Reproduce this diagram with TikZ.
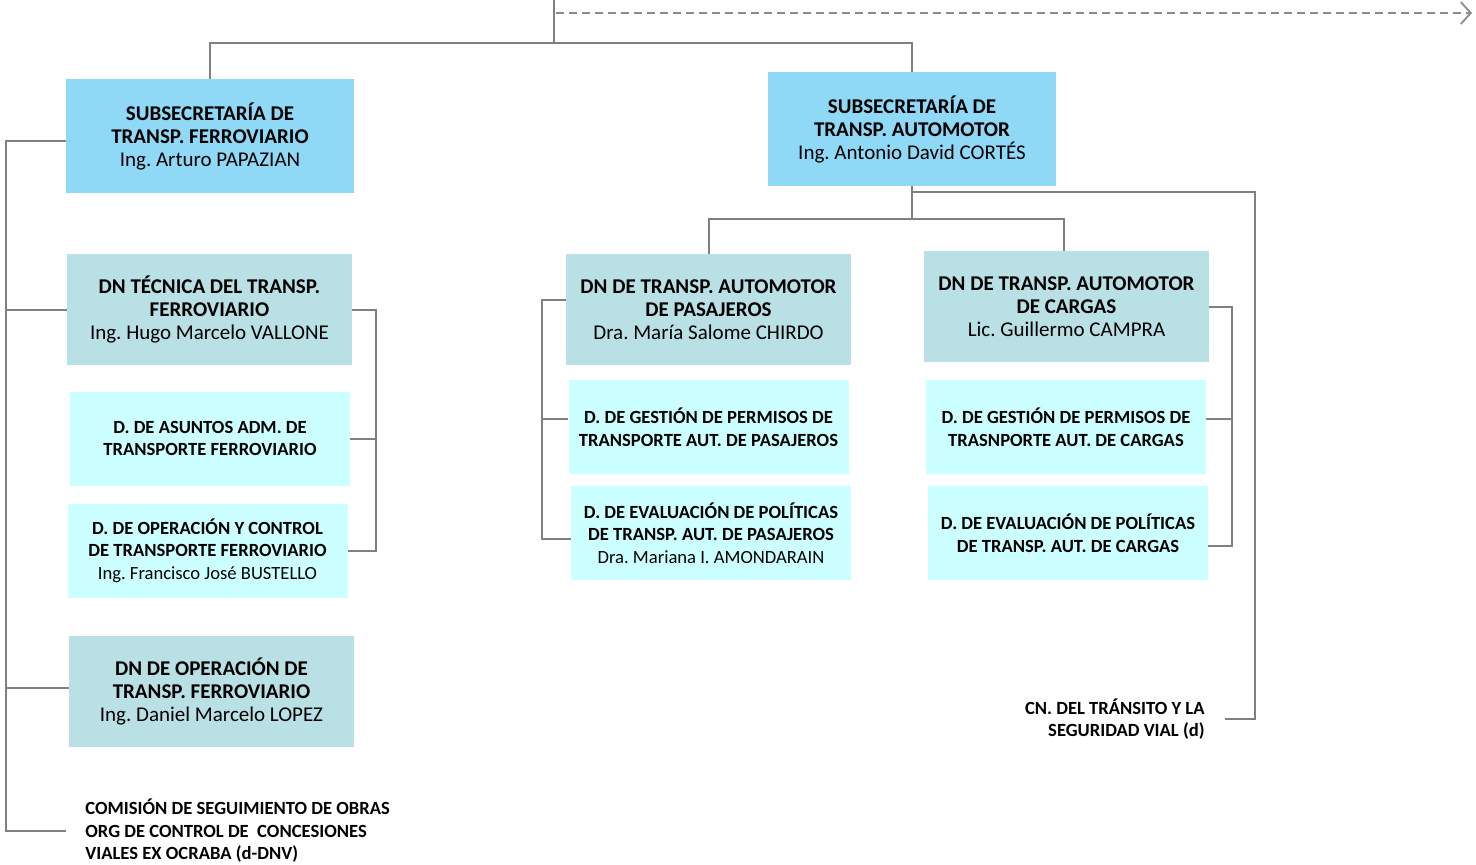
\documentclass[tikz,border=0pt]{standalone}
\usepackage{fontspec}
\setmainfont{Carlito}
\usetikzlibrary{arrows.meta}
\definecolor{ssblue}{RGB}{143,217,247}
\definecolor{dnteal}{RGB}{185,224,228}
\definecolor{dcyan}{RGB}{204,255,255}
\definecolor{lgray}{RGB}{128,128,128}
\definecolor{dgray}{RGB}{140,140,140}
\frenchspacing

\begin{document}
\begin{tikzpicture}[x=0.5pt,y=-0.5pt,
  ss/.style={fill=ssblue,inner sep=0pt,minimum width=144pt,minimum height=57pt,align=center,font=\fontsize{10.5}{11.5}\selectfont},
  dn/.style={fill=dnteal,inner sep=0pt,minimum width=142.5pt,minimum height=55.5pt,align=center,font=\fontsize{10.5}{11.5}\selectfont},
  dd/.style={fill=dcyan,inner sep=0pt,minimum width=140pt,minimum height=47pt,align=center,font=\fontsize{9.3}{11.25}\selectfont},
  lbl/.style={inner ysep=0pt,font=\bfseries\fontsize{9.3}{11.25}\selectfont},
  conn/.style={draw=lgray,line width=1pt},
  dashline/.style={draw=dgray,line width=0.9pt,dash pattern=on 4pt off 2.5pt,-{Straight Barb[length=5pt,width=11pt]}}]
  \useasboundingbox (0,0) rectangle (1476,864);

  \node[ss] (SSF) at (210,136) {\textbf{SUBSECRETARÍA DE}\\\textbf{TRANSP. FERROVIARIO}\\Ing. Arturo PAPAZIAN};
  \node[ss] (SSA) at (912,129) {\textbf{SUBSECRETARÍA DE}\\\textbf{TRANSP. AUTOMOTOR}\\Ing. Antonio David CORTÉS};

  \node[dn] (DNT) at (209.5,309.5) {\textbf{DN TÉCNICA DEL TRANSP.}\\\textbf{FERROVIARIO}\\Ing. Hugo Marcelo VALLONE};
  \node[dd] (DAF) at (210,438.5) {\textbf{D. DE ASUNTOS ADM. DE}\\\textbf{TRANSPORTE FERROVIARIO}};
  \node[dd] (DOC) at (207.5,550.5) {\textbf{D. DE OPERACIÓN Y CONTROL}\\\textbf{DE TRANSPORTE FERROVIARIO}\\Ing. Francisco José BUSTELLO};
  \node[dn] (DNO) at (211.5,691.5) {\textbf{DN DE OPERACIÓN DE}\\\textbf{TRANSP. FERROVIARIO}\\Ing. Daniel Marcelo LOPEZ};
  \node[lbl,anchor=west,align=left,inner xsep=9.5pt] (COM) at (66,831) {COMISIÓN DE SEGUIMIENTO DE OBRAS\\ORG DE CONTROL DE\ \ CONCESIONES\\VIALES EX OCRABA (d-DNV)};

  \node[dn] (DNP) at (708.5,309.5) {\textbf{DN DE TRANSP. AUTOMOTOR}\\\textbf{DE PASAJEROS}\\Dra. María Salome CHIRDO};
  \node[dd] (DGP) at (708.5,427) {\textbf{D. DE GESTIÓN DE PERMISOS DE}\\\textbf{TRANSPORTE AUT. DE PASAJEROS}};
  \node[dd] (DEP) at (711,533) {\textbf{D. DE EVALUACIÓN DE POLÍTICAS}\\\textbf{DE TRANSP. AUT. DE PASAJEROS}\\Dra. Mariana I. AMONDARAIN};

  \node[dn] (DNC) at (1066.5,306.5) {\textbf{DN DE TRANSP. AUTOMOTOR}\\\textbf{DE CARGAS}\\Lic. Guillermo CAMPRA};
  \node[dd] (DGC) at (1066,427) {\textbf{D. DE GESTIÓN DE PERMISOS DE}\\\textbf{TRASNPORTE AUT. DE CARGAS}};
  \node[dd] (DEC) at (1068,533) {\textbf{D. DE EVALUACIÓN DE POLÍTICAS}\\\textbf{DE TRANSP. AUT. DE CARGAS}};
  \node[lbl,anchor=east,align=right,inner xsep=10pt] (CNT) at (1225,719) {CN. DEL TRÁNSITO Y LA\\SEGURIDAD VIAL (d)};

  \coordinate (top) at (554,0);
  \coordinate (hub) at (554,43);
  \coordinate (dashend) at (1472,13);
  \draw[conn] (top) -- (hub);
  \draw[dashline] ([xshift=1pt]top |- dashend) -- (dashend);
  \draw[conn] (SSF.north) -- ++(0,-36) -| (SSA.north);

  \draw[conn] ([yshift=-2.5pt]SSF.west) -- ++(-60,0) coordinate (sp) |- (COM.west);
  \draw[conn] (DNT.west) -- (DNT.west -| sp);
  \draw[conn] ([yshift=2pt]DNO.west) -- ([yshift=2pt]DNO.west -| sp);
  \draw[conn] (DNT.east) -- ++(24,0) coordinate (rb) |- (DOC.east);
  \draw[conn] (DAF.east) -- (DAF.east -| rb);

  \draw[conn] (SSA.south) -- ++(0,33) -| (DNP.north);
  \draw[conn] (SSA.south) ++(0,33) -| ([xshift=-1.25pt]DNC.north);
  \draw[conn] ([yshift=-3pt]SSA.south) -- ++(343,0) coordinate (cb) |- (CNT.east);

  \draw[conn] ([yshift=5pt]DNP.west) -- ++(-24,0) coordinate (lb) |- ([yshift=-3pt]DEP.west);
  \draw[conn] ([yshift=4pt]DGP.west) -- ([yshift=4pt]DGP.west -| lb);
  \draw[conn] (DNC.east) -- ++(23,0) coordinate (rc) |- ([yshift=-6.5pt]DEC.east);
  \draw[conn] ([yshift=4pt]DGC.east) -- ([yshift=4pt]DGC.east -| rc);
\end{tikzpicture}
\end{document}
